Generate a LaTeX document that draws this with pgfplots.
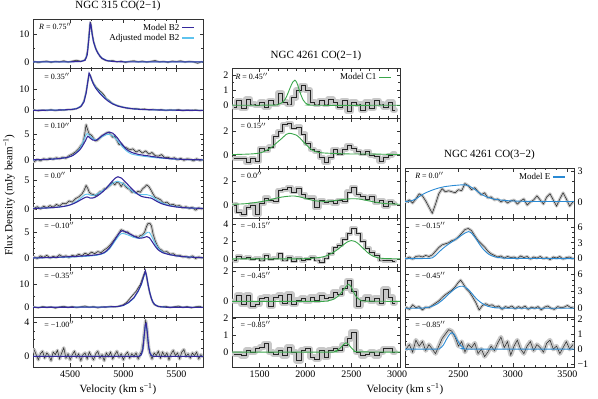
\documentclass[border=0pt]{standalone}
\usepackage{pgfplots}
\pgfplotsset{compat=1.18}
\usepackage{fontspec}
\setmainfont{Liberation Serif}
\definecolor{mBtwo}{HTML}{35299C}
\definecolor{mAdj}{HTML}{5EC3EE}
\definecolor{mCone}{HTML}{3AA64B}
\definecolor{mE}{HTML}{2A8AD4}
\definecolor{errg}{HTML}{C8C8C8}

\pgfplotsset{
  spec/.style={scale only axis, height=49.7pt, anchor=south west,
    axis line style={black!80, line width=0.6pt},
    tick style={black!80, line width=0.5pt},
    major tick length=3.5pt, minor tick length=2pt,
    tick align=inside, xticklabels={},
    tick label style={font=\fontsize{10}{11}\selectfont},
    /pgf/number format/assume math mode=true,
    title style={font=\fontsize{11}{12}\selectfont, inner sep=2pt},
    legend style={draw=none, fill=none, font=\fontsize{9}{10}\selectfont,
      at={(0.96,0.97)}, anchor=north east, row sep=-1.5pt, inner sep=1pt},
    legend cell align=right,
    legend plot pos=right,
    legend image code/.code={\draw[##1] (0pt,0pt) -- (12pt,0pt);},
  },
  lcol/.style={spec, width=170pt, xmin=4150, xmax=5750,
    xtick={4500,5000,5500}, minor x tick num=4},
  mcol/.style={spec, width=168pt, xmin=1200, xmax=3030,
    xtick={1500,2000,2500,3000}, minor x tick num=4},
  rcol/.style={spec, width=169pt, xmin=2010, xmax=3560,
    xtick={2500,3000,3500}, minor x tick num=4, yticklabel pos=right},
  obs/.style={black!85, line width=0.5pt, no marks},
  band/.style={errg, no marks, line join=round, line cap=round},
  dk/.style={mBtwo, line width=1.1pt, no marks},
  lt/.style={mAdj, line width=0.9pt, no marks},
  gr/.style={mCone, line width=0.9pt, no marks, smooth},
  be/.style={mE, line width=0.9pt, no marks, smooth},
}
\newcommand{\plab}[2]{\node[anchor=west, font=\fontsize{8}{9}\selectfont, inner sep=0pt] at (rel axis cs:#1,0.85) {#2};}

\begin{document}
\begin{tikzpicture}
\path[use as bounding box] (0pt,0pt) rectangle (598pt,399pt);

% ---------------- NGC 315 CO(2-1) ----------------
\begin{axis}[lcol, at={(33pt,330.2pt)}, ymin=-2.5, ymax=15.5, ytick={0,10}, minor y tick num=1,
  title={NGC 315 CO(2−1)}]
\addlegendimage{draw=mBtwo, line width=1.6pt}
\addlegendentry{Model B2}
\addlegendimage{draw=mAdj, line width=1.6pt}
\addlegendentry{Adjusted model B2}
\addplot[band, line width=2pt, forget plot] coordinates {(4160,0.2)(4200,-0.3)(4240,0.1)(4280,0.3)(4320,-0.2)(4360,0.2)(4400,0.0)(4440,0.4)(4480,-0.1)(4520,0.3)(4560,0.6)(4600,0.2)(4630,0.5)(4650,1.5)(4665,4.5)(4675,9.0)(4685,13.5)(4692,14.3)(4700,12.5)(4710,9.5)(4720,7.5)(4735,5.5)(4750,4.0)(4765,3.0)(4780,2.0)(4800,1.2)(4830,0.6)(4860,0.3)(4900,0.5)(4940,0.0)(4980,0.3)(5020,-0.2)(5060,0.2)(5100,0.4)(5140,0.0)(5180,0.3)(5220,-0.1)(5260,0.2)(5300,0.5)(5340,0.0)(5380,0.2)(5420,-0.2)(5460,0.3)(5500,0.1)(5540,0.4)(5580,-0.1)(5620,0.2)(5660,0.0)(5700,-0.5)(5740,0.1)};
\addplot[obs, forget plot] coordinates {(4160,0.2)(4200,-0.3)(4240,0.1)(4280,0.3)(4320,-0.2)(4360,0.2)(4400,0.0)(4440,0.4)(4480,-0.1)(4520,0.3)(4560,0.6)(4600,0.2)(4630,0.5)(4650,1.5)(4665,4.5)(4675,9.0)(4685,13.5)(4692,14.3)(4700,12.5)(4710,9.5)(4720,7.5)(4735,5.5)(4750,4.0)(4765,3.0)(4780,2.0)(4800,1.2)(4830,0.6)(4860,0.3)(4900,0.5)(4940,0.0)(4980,0.3)(5020,-0.2)(5060,0.2)(5100,0.4)(5140,0.0)(5180,0.3)(5220,-0.1)(5260,0.2)(5300,0.5)(5340,0.0)(5380,0.2)(5420,-0.2)(5460,0.3)(5500,0.1)(5540,0.4)(5580,-0.1)(5620,0.2)(5660,0.0)(5700,-0.5)(5740,0.1)};
\addplot[lt, forget plot] coordinates {(4150,0)(4500,0.02)(4600,0.15)(4640,0.7)(4660,2.8)(4675,8.5)(4688,13.6)(4695,13.2)(4705,10.3)(4720,7.3)(4740,4.9)(4760,3.3)(4780,2.2)(4800,1.4)(4840,0.55)(4900,0.18)(5000,0.04)(5750,0)};
\addplot[dk, forget plot] coordinates {(4150,0)(4500,0.02)(4600,0.15)(4640,0.6)(4660,2.5)(4675,8)(4688,14)(4695,13.5)(4705,10.5)(4720,7.2)(4740,4.8)(4760,3.2)(4780,2.1)(4800,1.3)(4840,0.5)(4900,0.15)(5000,0.03)(5750,0)};
\plab{0.035}{\textit{R} = 0.75$''$}
\end{axis}

\begin{axis}[lcol, at={(33pt,280.5pt)}, ymin=-3.7, ymax=19.2, ytick={0,10}, minor y tick num=1]
\addplot[band, line width=2pt] coordinates {(4160,0.3)(4200,-0.2)(4240,0.2)(4280,0.0)(4320,0.4)(4360,-0.1)(4400,0.3)(4440,0.1)(4480,0.5)(4520,0.4)(4560,0.9)(4590,1.5)(4610,2.5)(4630,4.5)(4650,8.5)(4665,13)(4678,16.8)(4690,16.0)(4705,14.0)(4720,12.5)(4740,11.0)(4760,10.0)(4780,9.0)(4800,8.2)(4820,7.0)(4840,5.5)(4860,4.8)(4880,4.0)(4900,3.2)(4930,2.5)(4960,2.0)(5000,1.5)(5040,1.0)(5080,0.8)(5120,0.9)(5160,0.5)(5200,0.7)(5240,0.3)(5280,0.5)(5320,0.2)(5360,0.4)(5400,0.0)(5440,0.3)(5480,0.1)(5520,0.4)(5560,-0.1)(5600,0.2)(5640,0.0)(5680,0.3)(5720,-0.1)(5740,0.1)};
\addplot[obs] coordinates {(4160,0.3)(4200,-0.2)(4240,0.2)(4280,0.0)(4320,0.4)(4360,-0.1)(4400,0.3)(4440,0.1)(4480,0.5)(4520,0.4)(4560,0.9)(4590,1.5)(4610,2.5)(4630,4.5)(4650,8.5)(4665,13)(4678,16.8)(4690,16.0)(4705,14.0)(4720,12.5)(4740,11.0)(4760,10.0)(4780,9.0)(4800,8.2)(4820,7.0)(4840,5.5)(4860,4.8)(4880,4.0)(4900,3.2)(4930,2.5)(4960,2.0)(5000,1.5)(5040,1.0)(5080,0.8)(5120,0.9)(5160,0.5)(5200,0.7)(5240,0.3)(5280,0.5)(5320,0.2)(5360,0.4)(5400,0.0)(5440,0.3)(5480,0.1)(5520,0.4)(5560,-0.1)(5600,0.2)(5640,0.0)(5680,0.3)(5720,-0.1)(5740,0.1)};
\addplot[lt] coordinates {(4150,0.05)(4400,0.2)(4500,0.4)(4560,0.9)(4600,2.0)(4630,4.3)(4650,8.3)(4665,13.2)(4678,16.8)(4690,15.8)(4705,13.9)(4720,12.3)(4740,10.7)(4760,9.5)(4780,8.3)(4800,7.2)(4830,5.8)(4860,4.5)(4900,3.2)(4950,2.1)(5000,1.5)(5100,0.7)(5200,0.4)(5400,0.15)(5750,0.05)};
\addplot[dk] coordinates {(4150,0.05)(4400,0.2)(4500,0.4)(4560,0.8)(4600,1.8)(4630,4.0)(4650,8.0)(4665,13)(4678,17.2)(4690,16.0)(4705,13.8)(4720,12.0)(4740,10.3)(4760,9.0)(4780,7.8)(4800,6.8)(4830,5.4)(4860,4.2)(4900,3.0)(4950,2.0)(5000,1.4)(5100,0.7)(5200,0.4)(5400,0.15)(5750,0.05)};
\plab{0.065}{= 0.35$''$}
\end{axis}

\begin{axis}[lcol, at={(33pt,230.8pt)}, ymin=-1.5, ymax=8, ytick={0,5}, minor y tick num=4]
\addplot[band, line width=3pt] coordinates {(4160,-0.3)(4190,0.2)(4220,-0.1)(4250,0.3)(4280,0.1)(4310,0.4)(4340,0.2)(4370,0.5)(4400,0.3)(4430,0.6)(4460,0.4)(4490,0.9)(4520,1.2)(4550,1.6)(4580,2.2)(4600,2.8)(4620,3.3)(4635,4.8)(4650,6.8)(4665,5.8)(4680,5.0)(4700,4.8)(4720,4.2)(4740,3.7)(4760,3.9)(4780,4.3)(4800,4.7)(4820,4.9)(4840,5.2)(4860,5.4)(4880,5.0)(4900,4.4)(4920,4.6)(4940,3.8)(4960,3.0)(4980,3.2)(5000,2.6)(5030,2.4)(5060,2.0)(5090,2.2)(5120,1.6)(5150,1.9)(5180,1.4)(5210,1.8)(5240,1.2)(5270,1.5)(5300,0.9)(5330,0.8)(5360,1.1)(5390,0.5)(5420,0.6)(5450,0.3)(5480,0.5)(5510,0.1)(5540,0.4)(5570,0.0)(5600,0.3)(5630,0.2)(5660,-0.1)(5690,0.3)(5720,0.0)(5740,0.1)};
\addplot[obs] coordinates {(4160,-0.3)(4190,0.2)(4220,-0.1)(4250,0.3)(4280,0.1)(4310,0.4)(4340,0.2)(4370,0.5)(4400,0.3)(4430,0.6)(4460,0.4)(4490,0.9)(4520,1.2)(4550,1.6)(4580,2.2)(4600,2.8)(4620,3.3)(4635,4.8)(4650,6.8)(4665,5.8)(4680,5.0)(4700,4.8)(4720,4.2)(4740,3.7)(4760,3.9)(4780,4.3)(4800,4.7)(4820,4.9)(4840,5.2)(4860,5.4)(4880,5.0)(4900,4.4)(4920,4.6)(4940,3.8)(4960,3.0)(4980,3.2)(5000,2.6)(5030,2.4)(5060,2.0)(5090,2.2)(5120,1.6)(5150,1.9)(5180,1.4)(5210,1.8)(5240,1.2)(5270,1.5)(5300,0.9)(5330,0.8)(5360,1.1)(5390,0.5)(5420,0.6)(5450,0.3)(5480,0.5)(5510,0.1)(5540,0.4)(5570,0.0)(5600,0.3)(5630,0.2)(5660,-0.1)(5690,0.3)(5720,0.0)(5740,0.1)};
\addplot[lt, smooth] coordinates {(4150,0.1)(4300,0.2)(4400,0.35)(4480,0.6)(4530,1.0)(4590,2.2)(4620,3.5)(4645,4.7)(4660,5.1)(4680,4.8)(4710,4.2)(4740,3.9)(4770,4.1)(4800,4.5)(4840,4.9)(4870,5.0)(4900,4.7)(4940,3.9)(4980,2.9)(5030,1.8)(5080,1.2)(5150,0.9)(5220,0.7)(5300,0.5)(5400,0.35)(5500,0.2)(5600,0.15)(5750,0.1)};
\addplot[dk, smooth] coordinates {(4150,0.1)(4300,0.2)(4400,0.35)(4480,0.6)(4530,1.0)(4590,2.0)(4620,2.9)(4645,3.8)(4665,4.6)(4685,4.3)(4710,3.9)(4740,3.8)(4770,4.2)(4800,4.7)(4840,5.2)(4870,5.4)(4900,5.2)(4940,4.4)(4980,3.3)(5030,2.1)(5080,1.5)(5150,1.1)(5220,0.9)(5300,0.65)(5400,0.4)(5500,0.25)(5600,0.15)(5750,0.1)};
\plab{0.065}{= 0.10$''$}
\end{axis}

\begin{axis}[lcol, at={(33pt,181.1pt)}, ymin=-1.55, ymax=7.1, ytick={0,5}, minor y tick num=4]
\addplot[band, line width=3pt] coordinates {(4160,0.1)(4190,0.4)(4220,0.0)(4250,0.5)(4280,0.2)(4310,0.6)(4340,0.3)(4370,0.8)(4400,0.5)(4430,1.0)(4460,0.9)(4490,1.4)(4520,1.2)(4550,1.8)(4580,2.1)(4610,2.6)(4630,3.2)(4650,4.1)(4665,3.6)(4680,2.9)(4700,2.6)(4720,2.5)(4740,2.3)(4760,2.6)(4780,3.0)(4800,3.1)(4820,3.5)(4840,3.6)(4860,3.9)(4880,4.2)(4900,4.6)(4920,4.2)(4940,4.7)(4960,4.5)(4980,3.9)(5000,4.5)(5020,3.9)(5040,3.6)(5060,3.4)(5080,2.9)(5100,3.0)(5120,2.8)(5140,3.1)(5160,2.9)(5180,3.5)(5200,3.8)(5220,4.2)(5240,3.9)(5260,3.3)(5280,2.6)(5300,2.0)(5320,1.9)(5350,1.6)(5380,1.0)(5410,1.2)(5440,0.7)(5470,0.8)(5500,0.5)(5530,0.6)(5560,0.2)(5590,0.4)(5620,0.1)(5650,0.3)(5680,-0.2)(5710,0.2)(5740,0.0)};
\addplot[obs] coordinates {(4160,0.1)(4190,0.4)(4220,0.0)(4250,0.5)(4280,0.2)(4310,0.6)(4340,0.3)(4370,0.8)(4400,0.5)(4430,1.0)(4460,0.9)(4490,1.4)(4520,1.2)(4550,1.8)(4580,2.1)(4610,2.6)(4630,3.2)(4650,4.1)(4665,3.6)(4680,2.9)(4700,2.6)(4720,2.5)(4740,2.3)(4760,2.6)(4780,3.0)(4800,3.1)(4820,3.5)(4840,3.6)(4860,3.9)(4880,4.2)(4900,4.6)(4920,4.2)(4940,4.7)(4960,4.5)(4980,3.9)(5000,4.5)(5020,3.9)(5040,3.6)(5060,3.4)(5080,2.9)(5100,3.0)(5120,2.8)(5140,3.1)(5160,2.9)(5180,3.5)(5200,3.8)(5220,4.2)(5240,3.9)(5260,3.3)(5280,2.6)(5300,2.0)(5320,1.9)(5350,1.6)(5380,1.0)(5410,1.2)(5440,0.7)(5470,0.8)(5500,0.5)(5530,0.6)(5560,0.2)(5590,0.4)(5620,0.1)(5650,0.3)(5680,-0.2)(5710,0.2)(5740,0.0)};
\addplot[lt, smooth] coordinates {(4150,0.1)(4300,0.2)(4400,0.35)(4480,0.6)(4540,1.1)(4600,1.9)(4640,2.5)(4660,2.6)(4690,2.4)(4730,2.4)(4780,2.9)(4830,3.5)(4880,4.2)(4920,4.7)(4950,4.8)(4980,4.6)(5020,4.1)(5070,3.3)(5120,2.7)(5170,2.5)(5220,2.5)(5260,2.3)(5300,1.8)(5350,1.2)(5420,0.7)(5500,0.4)(5600,0.2)(5750,0.1)};
\addplot[dk, smooth] coordinates {(4150,0.1)(4300,0.2)(4400,0.35)(4480,0.6)(4540,1.0)(4600,1.6)(4640,2.0)(4660,2.1)(4690,1.9)(4730,2.0)(4780,2.6)(4830,3.4)(4880,4.5)(4920,5.3)(4950,5.6)(4980,5.4)(5020,4.7)(5070,3.7)(5120,2.8)(5170,2.2)(5220,2.0)(5260,1.9)(5300,1.5)(5350,1.0)(5420,0.6)(5500,0.35)(5600,0.2)(5750,0.1)};
\plab{0.065}{= 0.0$''$}
\end{axis}

\begin{axis}[lcol, at={(33pt,131.4pt)}, ymin=-1.7, ymax=7.6, ytick={0,5}, minor y tick num=4]
\addplot[band, line width=3pt] coordinates {(4160,0.3)(4190,0.0)(4220,0.5)(4250,0.2)(4280,0.6)(4310,0.1)(4340,0.4)(4370,0.2)(4400,0.7)(4430,0.3)(4460,0.5)(4490,0.2)(4520,0.6)(4550,0.4)(4580,0.8)(4610,0.5)(4640,1.0)(4670,0.7)(4700,1.2)(4730,0.9)(4760,1.3)(4790,1.1)(4820,1.6)(4850,2.0)(4880,2.6)(4910,3.4)(4940,4.2)(4960,4.8)(4980,5.4)(5000,5.2)(5020,4.9)(5040,5.0)(5060,4.6)(5080,4.4)(5100,4.1)(5120,4.2)(5140,3.9)(5160,4.3)(5180,4.4)(5200,4.9)(5215,5.8)(5230,6.5)(5250,6.6)(5265,6.1)(5280,4.6)(5300,3.3)(5320,2.4)(5340,1.8)(5360,1.6)(5380,1.2)(5410,1.3)(5440,0.8)(5470,0.9)(5500,0.5)(5530,0.6)(5560,0.3)(5590,0.4)(5620,0.1)(5650,0.5)(5680,0.0)(5710,0.3)(5740,0.1)};
\addplot[obs] coordinates {(4160,0.3)(4190,0.0)(4220,0.5)(4250,0.2)(4280,0.6)(4310,0.1)(4340,0.4)(4370,0.2)(4400,0.7)(4430,0.3)(4460,0.5)(4490,0.2)(4520,0.6)(4550,0.4)(4580,0.8)(4610,0.5)(4640,1.0)(4670,0.7)(4700,1.2)(4730,0.9)(4760,1.3)(4790,1.1)(4820,1.6)(4850,2.0)(4880,2.6)(4910,3.4)(4940,4.2)(4960,4.8)(4980,5.4)(5000,5.2)(5020,4.9)(5040,5.0)(5060,4.6)(5080,4.4)(5100,4.1)(5120,4.2)(5140,3.9)(5160,4.3)(5180,4.4)(5200,4.9)(5215,5.8)(5230,6.5)(5250,6.6)(5265,6.1)(5280,4.6)(5300,3.3)(5320,2.4)(5340,1.8)(5360,1.6)(5380,1.2)(5410,1.3)(5440,0.8)(5470,0.9)(5500,0.5)(5530,0.6)(5560,0.3)(5590,0.4)(5620,0.1)(5650,0.5)(5680,0.0)(5710,0.3)(5740,0.1)};
\addplot[lt, smooth] coordinates {(4150,0.1)(4400,0.2)(4600,0.35)(4750,0.6)(4820,1.0)(4870,1.8)(4920,3.2)(4960,4.3)(4990,4.7)(5030,4.5)(5070,4.2)(5110,3.9)(5150,3.8)(5190,4.3)(5220,4.8)(5245,4.9)(5270,4.0)(5300,2.8)(5330,1.9)(5370,1.2)(5420,0.8)(5500,0.5)(5600,0.3)(5750,0.15)};
\addplot[dk, smooth] coordinates {(4150,0.1)(4400,0.25)(4600,0.45)(4750,0.7)(4820,1.1)(4870,2.0)(4920,3.5)(4960,4.7)(4990,5.2)(5030,4.9)(5070,4.5)(5110,4.1)(5150,3.8)(5190,3.9)(5220,4.1)(5245,3.9)(5270,3.2)(5300,2.3)(5330,1.6)(5370,1.1)(5420,0.8)(5500,0.5)(5600,0.3)(5750,0.15)};
\plab{0.065}{= −0.10$''$}
\end{axis}

\begin{axis}[lcol, at={(33pt,81.7pt)}, ymin=-4.3, ymax=17.4, ytick={0,10}, minor y tick num=1]
\addplot[band, line width=2pt] coordinates {(4160,0.3)(4200,-0.2)(4240,0.4)(4280,0.0)(4320,0.3)(4360,-0.3)(4400,0.2)(4440,0.5)(4480,0.0)(4520,0.4)(4560,-0.1)(4600,0.3)(4640,0.6)(4680,0.1)(4720,0.4)(4760,-0.2)(4800,0.3)(4840,0.1)(4880,0.5)(4920,0.2)(4960,0.6)(5000,1.2)(5030,2.2)(5060,3.8)(5090,5.5)(5120,7.0)(5140,8.6)(5160,10.0)(5175,12.0)(5190,14.0)(5205,15.8)(5215,14.5)(5230,10.5)(5245,7.0)(5260,4.5)(5275,2.5)(5290,1.3)(5320,0.6)(5360,0.2)(5400,0.5)(5440,-0.1)(5480,0.3)(5520,0.6)(5560,0.0)(5600,0.4)(5640,-0.2)(5680,0.3)(5720,0.5)(5740,0.1)};
\addplot[obs] coordinates {(4160,0.3)(4200,-0.2)(4240,0.4)(4280,0.0)(4320,0.3)(4360,-0.3)(4400,0.2)(4440,0.5)(4480,0.0)(4520,0.4)(4560,-0.1)(4600,0.3)(4640,0.6)(4680,0.1)(4720,0.4)(4760,-0.2)(4800,0.3)(4840,0.1)(4880,0.5)(4920,0.2)(4960,0.6)(5000,1.2)(5030,2.2)(5060,3.8)(5090,5.5)(5120,7.0)(5140,8.6)(5160,10.0)(5175,12.0)(5190,14.0)(5205,15.8)(5215,14.5)(5230,10.5)(5245,7.0)(5260,4.5)(5275,2.5)(5290,1.3)(5320,0.6)(5360,0.2)(5400,0.5)(5440,-0.1)(5480,0.3)(5520,0.6)(5560,0.0)(5600,0.4)(5640,-0.2)(5680,0.3)(5720,0.5)(5740,0.1)};
\addplot[lt] coordinates {(4150,0.05)(4800,0.15)(4950,0.4)(5000,0.8)(5050,2.0)(5100,4.0)(5140,6.9)(5170,9.9)(5195,13.7)(5208,15.5)(5220,13.4)(5235,9.6)(5250,6.4)(5265,3.9)(5280,2.3)(5300,1.2)(5330,0.45)(5400,0.1)(5750,0.05)};
\addplot[dk] coordinates {(4150,0.05)(4800,0.15)(4950,0.4)(5000,0.9)(5050,2.2)(5100,4.3)(5140,7.2)(5170,10.2)(5195,14.0)(5208,16.0)(5220,13.5)(5235,9.5)(5250,6.3)(5265,3.8)(5280,2.2)(5300,1.1)(5330,0.4)(5400,0.1)(5750,0.05)};
\plab{0.065}{= −0.35$''$}
\end{axis}

\begin{axis}[lcol, at={(33pt,32pt)}, ymin=-1.25, ymax=4.6, ytick={0,4}, minor y tick num=3,
  xticklabels={4500,5000,5500}]
\addplot[band, line width=3.5pt] coordinates {(4160,0.8)(4180,0.2)(4200,-0.4)(4220,0.3)(4240,0.6)(4260,-0.2)(4280,0.4)(4300,0.1)(4320,-0.5)(4340,0.5)(4360,0.2)(4380,0.7)(4400,-0.3)(4420,0.4)(4440,1.0)(4460,-0.2)(4480,0.3)(4500,-0.4)(4520,0.2)(4540,0.6)(4560,-0.1)(4580,0.3)(4600,-0.5)(4620,0.2)(4640,0.4)(4660,-0.3)(4680,0.5)(4700,0.0)(4720,-0.4)(4740,0.3)(4760,0.6)(4780,-0.2)(4800,0.2)(4820,-0.5)(4840,0.4)(4860,0.0)(4880,0.5)(4900,-0.3)(4920,0.2)(4940,0.6)(4960,-0.1)(4980,0.3)(5000,-0.4)(5020,0.2)(5040,0.5)(5060,-0.2)(5080,0.3)(5100,0.0)(5120,0.4)(5140,-0.3)(5160,0.3)(5175,0.6)(5190,1.8)(5200,3.0)(5210,4.2)(5220,3.4)(5230,2.0)(5240,0.9)(5255,0.2)(5270,-0.3)(5290,0.4)(5310,0.1)(5330,0.6)(5350,-0.2)(5370,0.5)(5390,0.0)(5410,0.4)(5430,-0.4)(5450,0.3)(5470,0.7)(5490,0.1)(5510,0.4)(5530,-0.3)(5550,0.5)(5570,0.8)(5590,0.0)(5610,0.3)(5630,-0.2)(5650,0.4)(5670,0.1)(5690,0.5)(5710,-0.3)(5730,0.2)(5740,0.0)};
\addplot[obs] coordinates {(4160,0.8)(4180,0.2)(4200,-0.4)(4220,0.3)(4240,0.6)(4260,-0.2)(4280,0.4)(4300,0.1)(4320,-0.5)(4340,0.5)(4360,0.2)(4380,0.7)(4400,-0.3)(4420,0.4)(4440,1.0)(4460,-0.2)(4480,0.3)(4500,-0.4)(4520,0.2)(4540,0.6)(4560,-0.1)(4580,0.3)(4600,-0.5)(4620,0.2)(4640,0.4)(4660,-0.3)(4680,0.5)(4700,0.0)(4720,-0.4)(4740,0.3)(4760,0.6)(4780,-0.2)(4800,0.2)(4820,-0.5)(4840,0.4)(4860,0.0)(4880,0.5)(4900,-0.3)(4920,0.2)(4940,0.6)(4960,-0.1)(4980,0.3)(5000,-0.4)(5020,0.2)(5040,0.5)(5060,-0.2)(5080,0.3)(5100,0.0)(5120,0.4)(5140,-0.3)(5160,0.3)(5175,0.6)(5190,1.8)(5200,3.0)(5210,4.2)(5220,3.4)(5230,2.0)(5240,0.9)(5255,0.2)(5270,-0.3)(5290,0.4)(5310,0.1)(5330,0.6)(5350,-0.2)(5370,0.5)(5390,0.0)(5410,0.4)(5430,-0.4)(5450,0.3)(5470,0.7)(5490,0.1)(5510,0.4)(5530,-0.3)(5550,0.5)(5570,0.8)(5590,0.0)(5610,0.3)(5630,-0.2)(5650,0.4)(5670,0.1)(5690,0.5)(5710,-0.3)(5730,0.2)(5740,0.0)};
\addplot[lt] coordinates {(4150,0)(5150,0.0)(5170,0.2)(5185,0.95)(5197,2.6)(5208,3.7)(5215,3.8)(5225,2.9)(5237,1.35)(5250,0.45)(5265,0.1)(5280,0)(5750,0)};
\addplot[dk] coordinates {(4150,0)(5150,0.0)(5170,0.2)(5185,0.9)(5197,2.5)(5208,3.8)(5215,3.9)(5225,2.9)(5237,1.3)(5250,0.4)(5265,0.1)(5280,0)(5750,0)};
\plab{0.065}{= −1.00$''$}
\end{axis}

% ---------------- NGC 4261 CO(2-1) ----------------
\begin{axis}[mcol, at={(232pt,280.5pt)}, ymin=-0.87, ymax=2.4, ytick={0,1,2}, minor y tick num=1,
  title={NGC 4261 CO(2−1)}]
\addplot[band, line width=6pt, const plot mark mid, forget plot] coordinates {(1225,-0.1)(1275,0.3)(1325,-0.2)(1375,0.4)(1425,0.1)(1475,0.0)(1525,0.2)(1575,-0.1)(1625,0.3)(1675,0.1)(1725,0.8)(1775,0.2)(1825,0.1)(1875,0.5)(1925,1.0)(1975,1.3)(2025,1.0)(2075,0.2)(2125,0.1)(2175,0.3)(2225,0.1)(2275,0.4)(2325,0.2)(2375,-0.1)(2425,0.3)(2475,-0.4)(2525,0.2)(2575,0.1)(2625,-0.3)(2675,0.2)(2725,-0.2)(2775,0.3)(2825,0.1)(2875,-0.1)(2925,0.2)(2975,-0.3)};
\addplot[obs, const plot mark mid, forget plot] coordinates {(1225,-0.1)(1275,0.3)(1325,-0.2)(1375,0.4)(1425,0.1)(1475,0.0)(1525,0.2)(1575,-0.1)(1625,0.3)(1675,0.1)(1725,0.8)(1775,0.2)(1825,0.1)(1875,0.5)(1925,1.0)(1975,1.3)(2025,1.0)(2075,0.2)(2125,0.1)(2175,0.3)(2225,0.1)(2275,0.4)(2325,0.2)(2375,-0.1)(2425,0.3)(2475,-0.4)(2525,0.2)(2575,0.1)(2625,-0.3)(2675,0.2)(2725,-0.2)(2775,0.3)(2825,0.1)(2875,-0.1)(2925,0.2)(2975,-0.3)};
\addplot[gr, forget plot] coordinates {(1200,0)(1650,0.01)(1700,0.05)(1740,0.15)(1780,0.4)(1810,0.8)(1840,1.25)(1865,1.55)(1885,1.65)(1905,1.5)(1925,1.15)(1950,0.7)(1975,0.35)(2000,0.15)(2040,0.04)(2100,0.0)(3030,0.0)};
\addlegendimage{draw=mCone, line width=1.6pt}
\addlegendentry{Model C1}
\plab{0.02}{\textit{R} = 0.45$''$}
\end{axis}

\begin{axis}[mcol, at={(232pt,230.8pt)}, ymin=-1.1, ymax=3.1, ytick={0,2}, minor y tick num=1]
\addplot[band, line width=5pt, const plot mark mid] coordinates {(1225,-0.3)(1275,-0.3)(1325,-0.3)(1375,-0.6)(1425,-0.3)(1475,-0.5)(1525,0.6)(1575,0.4)(1625,0.7)(1675,1.6)(1725,2.0)(1775,2.6)(1825,2.7)(1875,2.3)(1925,2.4)(1975,1.8)(2025,1.0)(2075,0.5)(2125,0.3)(2175,-0.2)(2225,-0.6)(2275,-0.2)(2325,0.5)(2375,0.1)(2425,0.5)(2475,0.8)(2525,0.6)(2575,0.3)(2625,0.1)(2675,0.3)(2725,0.0)(2775,-0.1)(2825,-0.5)(2875,-0.2)(2925,0.0)(2975,0.1)};
\addplot[obs, const plot mark mid] coordinates {(1225,-0.3)(1275,-0.3)(1325,-0.3)(1375,-0.6)(1425,-0.3)(1475,-0.5)(1525,0.6)(1575,0.4)(1625,0.7)(1675,1.6)(1725,2.0)(1775,2.6)(1825,2.7)(1875,2.3)(1925,2.4)(1975,1.8)(2025,1.0)(2075,0.5)(2125,0.3)(2175,-0.2)(2225,-0.6)(2275,-0.2)(2325,0.5)(2375,0.1)(2425,0.5)(2475,0.8)(2525,0.6)(2575,0.3)(2625,0.1)(2675,0.3)(2725,0.0)(2775,-0.1)(2825,-0.5)(2875,-0.2)(2925,0.0)(2975,0.1)};
\addplot[gr] coordinates {(1200,0.05)(1400,0.1)(1500,0.18)(1560,0.35)(1620,0.6)(1680,1.0)(1740,1.4)(1790,1.75)(1820,1.85)(1860,1.8)(1900,1.7)(1940,1.45)(1980,1.1)(2020,0.8)(2060,0.5)(2110,0.3)(2180,0.2)(2300,0.15)(2500,0.1)(2700,0.1)(3030,0.05)};
\plab{0.05}{= 0.15$''$}
\end{axis}

\begin{axis}[mcol, at={(232pt,181.1pt)}, ymin=-1.1, ymax=3.1, ytick={0,2}, minor y tick num=1]
\addplot[band, line width=5pt, const plot mark mid] coordinates {(1225,0.0)(1275,-0.6)(1325,-0.8)(1375,-0.2)(1425,0.0)(1475,-0.8)(1525,0.1)(1575,0.6)(1625,0.4)(1675,0.3)(1725,1.2)(1775,1.3)(1825,1.5)(1875,1.1)(1925,1.4)(1975,0.9)(2025,0.6)(2075,0.6)(2125,-0.2)(2175,0.4)(2225,0.2)(2275,0.3)(2325,0.1)(2375,0.4)(2425,0.3)(2475,1.1)(2525,1.5)(2575,0.9)(2625,0.7)(2675,0.5)(2725,0.7)(2775,0.2)(2825,0.4)(2875,-0.1)(2925,0.3)(2975,0.1)};
\addplot[obs, const plot mark mid] coordinates {(1225,0.0)(1275,-0.6)(1325,-0.8)(1375,-0.2)(1425,0.0)(1475,-0.8)(1525,0.1)(1575,0.6)(1625,0.4)(1675,0.3)(1725,1.2)(1775,1.3)(1825,1.5)(1875,1.1)(1925,1.4)(1975,0.9)(2025,0.6)(2075,0.6)(2125,-0.2)(2175,0.4)(2225,0.2)(2275,0.3)(2325,0.1)(2375,0.4)(2425,0.3)(2475,1.1)(2525,1.5)(2575,0.9)(2625,0.7)(2675,0.5)(2725,0.7)(2775,0.2)(2825,0.4)(2875,-0.1)(2925,0.3)(2975,0.1)};
\addplot[gr] coordinates {(1200,0.05)(1350,0.1)(1500,0.25)(1600,0.4)(1700,0.6)(1800,0.72)(1880,0.75)(1950,0.65)(2020,0.5)(2100,0.35)(2200,0.3)(2300,0.35)(2400,0.45)(2500,0.52)(2580,0.5)(2650,0.4)(2750,0.25)(2850,0.12)(3030,0.05)};
\plab{0.05}{= 0.0$''$}
\end{axis}

\begin{axis}[mcol, at={(232pt,131.4pt)}, ymin=-1.0, ymax=4.7, ytick={0,2,4}, minor y tick num=1]
\addplot[band, line width=4pt, const plot mark mid] coordinates {(1225,-0.2)(1275,0.3)(1325,0.1)(1375,0.2)(1425,0.0)(1475,0.1)(1525,-0.1)(1575,0.4)(1625,0.0)(1675,0.1)(1725,0.6)(1775,-0.1)(1825,0.2)(1875,-0.3)(1925,0.1)(1975,-0.2)(2025,0.0)(2075,0.2)(2125,-0.1)(2175,-0.4)(2225,0.1)(2275,0.6)(2325,1.3)(2375,1.6)(2425,2.3)(2475,2.9)(2525,3.5)(2575,2.9)(2625,2.0)(2675,1.2)(2725,0.8)(2775,0.4)(2825,-0.1)(2875,-0.2)(2925,-0.2)(2975,-0.3)};
\addplot[obs, const plot mark mid] coordinates {(1225,-0.2)(1275,0.3)(1325,0.1)(1375,0.2)(1425,0.0)(1475,0.1)(1525,-0.1)(1575,0.4)(1625,0.0)(1675,0.1)(1725,0.6)(1775,-0.1)(1825,0.2)(1875,-0.3)(1925,0.1)(1975,-0.2)(2025,0.0)(2075,0.2)(2125,-0.1)(2175,-0.4)(2225,0.1)(2275,0.6)(2325,1.3)(2375,1.6)(2425,2.3)(2475,2.9)(2525,3.5)(2575,2.9)(2625,2.0)(2675,1.2)(2725,0.8)(2775,0.4)(2825,-0.1)(2875,-0.2)(2925,-0.2)(2975,-0.3)};
\addplot[gr] coordinates {(1200,0.0)(1900,0.0)(2000,0.03)(2100,0.1)(2200,0.25)(2280,0.6)(2340,1.0)(2400,1.5)(2450,1.9)(2500,2.1)(2540,2.0)(2580,1.7)(2630,1.2)(2680,0.7)(2730,0.35)(2780,0.15)(2850,0.05)(3030,0.0)};
\plab{0.05}{= −0.15$''$}
\end{axis}

\begin{axis}[mcol, at={(232pt,81.7pt)}, ymin=-1.07, ymax=2.27, ytick={0,2}, minor y tick num=1]
\addplot[band, line width=6pt, const plot mark mid] coordinates {(1225,0.0)(1275,0.4)(1325,-0.2)(1375,0.4)(1425,-0.3)(1475,-0.2)(1525,0.2)(1575,0.3)(1625,-0.3)(1675,0.3)(1725,0.4)(1775,-0.1)(1825,0.5)(1875,-0.2)(1925,0.1)(1975,0.2)(2025,0.0)(2075,0.3)(2125,0.1)(2175,0.4)(2225,0.2)(2275,0.3)(2325,0.6)(2375,0.5)(2425,0.9)(2475,1.4)(2525,0.7)(2575,-0.3)(2625,0.1)(2675,0.3)(2725,0.0)(2775,0.2)(2825,-0.1)(2875,0.8)(2925,0.3)(2975,-0.1)};
\addplot[obs, const plot mark mid] coordinates {(1225,0.0)(1275,0.4)(1325,-0.2)(1375,0.4)(1425,-0.3)(1475,-0.2)(1525,0.2)(1575,0.3)(1625,-0.3)(1675,0.3)(1725,0.4)(1775,-0.1)(1825,0.5)(1875,-0.2)(1925,0.1)(1975,0.2)(2025,0.0)(2075,0.3)(2125,0.1)(2175,0.4)(2225,0.2)(2275,0.3)(2325,0.6)(2375,0.5)(2425,0.9)(2475,1.4)(2525,0.7)(2575,-0.3)(2625,0.1)(2675,0.3)(2725,0.0)(2775,0.2)(2825,-0.1)(2875,0.8)(2925,0.3)(2975,-0.1)};
\addplot[gr] coordinates {(1200,0)(2150,0.0)(2250,0.05)(2300,0.13)(2350,0.32)(2400,0.65)(2440,0.98)(2470,1.15)(2500,0.95)(2530,0.55)(2560,0.27)(2600,0.08)(2650,0.02)(3030,0)};
\plab{0.05}{= −0.45$''$}
\end{axis}

\begin{axis}[mcol, at={(232pt,32pt)}, ymin=-0.88, ymax=2.06, ytick={0,1,2}, minor y tick num=1,
  xticklabels={1500,2000,2500,3000}]
\addplot[band, line width=6pt, const plot mark mid] coordinates {(1225,-0.1)(1275,-0.1)(1325,-0.2)(1375,0.1)(1425,0.0)(1475,0.2)(1525,0.3)(1575,0.5)(1625,0.0)(1675,-0.1)(1725,0.1)(1775,-0.2)(1825,0.3)(1875,0.0)(1925,-0.5)(1975,0.1)(2025,0.2)(2075,-0.3)(2125,-0.4)(2175,0.1)(2225,-0.3)(2275,0.1)(2325,0.2)(2375,0.1)(2425,0.4)(2475,0.8)(2525,1.2)(2575,0.0)(2625,-0.2)(2675,-0.1)(2725,0.0)(2775,-0.2)(2825,0.0)(2875,0.2)(2925,0.2)(2975,0.0)};
\addplot[obs, const plot mark mid] coordinates {(1225,-0.1)(1275,-0.1)(1325,-0.2)(1375,0.1)(1425,0.0)(1475,0.2)(1525,0.3)(1575,0.5)(1625,0.0)(1675,-0.1)(1725,0.1)(1775,-0.2)(1825,0.3)(1875,0.0)(1925,-0.5)(1975,0.1)(2025,0.2)(2075,-0.3)(2125,-0.4)(2175,0.1)(2225,-0.3)(2275,0.1)(2325,0.2)(2375,0.1)(2425,0.4)(2475,0.8)(2525,1.2)(2575,0.0)(2625,-0.2)(2675,-0.1)(2725,0.0)(2775,-0.2)(2825,0.0)(2875,0.2)(2925,0.2)(2975,0.0)};
\addplot[gr] coordinates {(1200,0)(2250,0)(2320,0.05)(2370,0.2)(2410,0.42)(2440,0.55)(2470,0.45)(2500,0.25)(2530,0.1)(2570,0.02)(3030,0)};
\plab{0.05}{= −0.85$''$}
\end{axis}

% ---------------- NGC 4261 CO(3-2) ----------------
\begin{axis}[rcol, at={(405pt,181.1pt)}, ymin=-1.55, ymax=3.3, ytick={0,3}, minor y tick num=2,
  title={NGC 4261 CO(3−2)}]
\addplot[band, line width=3pt, forget plot] coordinates {(2020,0.0)(2050,0.2)(2080,-0.1)(2110,0.3)(2140,0.8)(2170,0.6)(2200,0.1)(2230,-0.5)(2260,-1.1)(2290,-0.2)(2320,0.8)(2350,1.3)(2380,1.0)(2410,1.1)(2440,1.0)(2470,0.9)(2500,1.2)(2530,1.1)(2560,1.8)(2590,1.6)(2620,1.2)(2650,1.4)(2680,1.0)(2710,0.7)(2740,0.9)(2770,0.4)(2800,0.5)(2830,0.2)(2860,0.3)(2890,0.0)(2920,0.2)(2950,-0.1)(2980,0.1)(3010,0.2)(3040,-0.2)(3070,0.1)(3100,0.3)(3130,-0.3)(3160,0.0)(3190,0.2)(3220,0.6)(3250,0.2)(3280,-0.2)(3310,0.5)(3340,0.8)(3370,0.2)(3400,-0.4)(3430,0.3)(3460,0.9)(3490,0.3)(3520,-0.4)(3550,0.0)};
\addplot[obs, forget plot] coordinates {(2020,0.0)(2050,0.2)(2080,-0.1)(2110,0.3)(2140,0.8)(2170,0.6)(2200,0.1)(2230,-0.5)(2260,-1.1)(2290,-0.2)(2320,0.8)(2350,1.3)(2380,1.0)(2410,1.1)(2440,1.0)(2470,0.9)(2500,1.2)(2530,1.1)(2560,1.8)(2590,1.6)(2620,1.2)(2650,1.4)(2680,1.0)(2710,0.7)(2740,0.9)(2770,0.4)(2800,0.5)(2830,0.2)(2860,0.3)(2890,0.0)(2920,0.2)(2950,-0.1)(2980,0.1)(3010,0.2)(3040,-0.2)(3070,0.1)(3100,0.3)(3130,-0.3)(3160,0.0)(3190,0.2)(3220,0.6)(3250,0.2)(3280,-0.2)(3310,0.5)(3340,0.8)(3370,0.2)(3400,-0.4)(3430,0.3)(3460,0.9)(3490,0.3)(3520,-0.4)(3550,0.0)};
\addplot[be, forget plot] coordinates {(2010,0.05)(2060,0.1)(2110,0.3)(2150,0.6)(2200,0.9)(2270,1.2)(2350,1.45)(2430,1.58)(2500,1.65)(2560,1.68)(2600,1.55)(2640,1.3)(2680,1.0)(2720,0.7)(2760,0.5)(2820,0.3)(2900,0.18)(3000,0.1)(3200,0.05)(3560,0.05)};
\addlegendimage{draw=mE, line width=1.6pt}
\addlegendentry{Model E}
\plab{0.06}{\textit{R} = 0.0$''$}
\end{axis}

\begin{axis}[rcol, at={(405pt,131.4pt)}, ymin=-1.7, ymax=7.7, ytick={0,3,6}, minor y tick num=2]
\addplot[band, line width=3pt] coordinates {(2020,0.0)(2050,0.3)(2080,-0.1)(2110,0.4)(2140,0.5)(2170,0.3)(2200,0.6)(2230,0.4)(2260,0.7)(2290,1.4)(2320,2.1)(2350,2.6)(2380,2.8)(2410,3.0)(2440,3.4)(2470,3.6)(2500,4.1)(2530,4.8)(2560,5.5)(2590,5.7)(2620,5.3)(2650,4.3)(2680,3.4)(2710,2.8)(2740,2.2)(2770,1.4)(2800,0.9)(2830,0.6)(2860,0.3)(2890,0.5)(2920,0.1)(2950,0.4)(2980,0.2)(3010,0.3)(3040,0.0)(3070,0.5)(3100,0.2)(3130,0.4)(3160,-0.1)(3190,0.3)(3220,0.1)(3250,0.4)(3280,0.0)(3310,0.2)(3340,-0.2)(3370,0.3)(3400,0.1)(3430,0.4)(3460,-0.1)(3490,0.2)(3520,0.3)(3550,0.0)};
\addplot[obs] coordinates {(2020,0.0)(2050,0.3)(2080,-0.1)(2110,0.4)(2140,0.5)(2170,0.3)(2200,0.6)(2230,0.4)(2260,0.7)(2290,1.4)(2320,2.1)(2350,2.6)(2380,2.8)(2410,3.0)(2440,3.4)(2470,3.6)(2500,4.1)(2530,4.8)(2560,5.5)(2590,5.7)(2620,5.3)(2650,4.3)(2680,3.4)(2710,2.8)(2740,2.2)(2770,1.4)(2800,0.9)(2830,0.6)(2860,0.3)(2890,0.5)(2920,0.1)(2950,0.4)(2980,0.2)(3010,0.3)(3040,0.0)(3070,0.5)(3100,0.2)(3130,0.4)(3160,-0.1)(3190,0.3)(3220,0.1)(3250,0.4)(3280,0.0)(3310,0.2)(3340,-0.2)(3370,0.3)(3400,0.1)(3430,0.4)(3460,-0.1)(3490,0.2)(3520,0.3)(3550,0.0)};
\addplot[be] coordinates {(2010,0.0)(2200,0.02)(2260,0.15)(2300,0.8)(2350,1.8)(2400,2.6)(2450,3.3)(2500,4.0)(2550,4.7)(2590,5.1)(2620,4.8)(2660,3.8)(2700,2.5)(2740,1.5)(2780,0.8)(2830,0.35)(2900,0.12)(3000,0.04)(3560,0.0)};
\plab{0.06}{= −0.15$''$}
\end{axis}

\begin{axis}[rcol, at={(405pt,81.7pt)}, ymin=-1.6, ymax=7.2, ytick={0,3,6}, minor y tick num=2]
\addplot[band, line width=3pt] coordinates {(2020,0.2)(2050,-0.2)(2080,0.6)(2110,0.1)(2140,0.3)(2170,-0.3)(2200,0.2)(2230,0.1)(2260,0.5)(2290,0.9)(2320,1.3)(2350,1.9)(2380,2.4)(2410,2.8)(2440,3.2)(2470,3.8)(2500,4.6)(2520,5.0)(2545,4.3)(2570,3.5)(2600,2.9)(2630,2.0)(2660,1.0)(2690,-0.3)(2720,0.5)(2750,0.8)(2780,0.5)(2810,0.6)(2840,0.2)(2870,0.4)(2900,-0.2)(2930,0.3)(2960,0.1)(2990,0.4)(3020,-0.1)(3050,0.3)(3080,0.0)(3110,0.4)(3140,-0.2)(3170,0.2)(3200,0.0)(3230,0.3)(3260,-0.3)(3290,0.2)(3320,0.4)(3350,0.0)(3380,-0.2)(3410,0.3)(3440,0.1)(3470,0.2)(3500,0.5)(3530,0.1)(3550,0.2)};
\addplot[obs] coordinates {(2020,0.2)(2050,-0.2)(2080,0.6)(2110,0.1)(2140,0.3)(2170,-0.3)(2200,0.2)(2230,0.1)(2260,0.5)(2290,0.9)(2320,1.3)(2350,1.9)(2380,2.4)(2410,2.8)(2440,3.2)(2470,3.8)(2500,4.6)(2520,5.0)(2545,4.3)(2570,3.5)(2600,2.9)(2630,2.0)(2660,1.0)(2690,-0.3)(2720,0.5)(2750,0.8)(2780,0.5)(2810,0.6)(2840,0.2)(2870,0.4)(2900,-0.2)(2930,0.3)(2960,0.1)(2990,0.4)(3020,-0.1)(3050,0.3)(3080,0.0)(3110,0.4)(3140,-0.2)(3170,0.2)(3200,0.0)(3230,0.3)(3260,-0.3)(3290,0.2)(3320,0.4)(3350,0.0)(3380,-0.2)(3410,0.3)(3440,0.1)(3470,0.2)(3500,0.5)(3530,0.1)(3550,0.2)};
\addplot[be] coordinates {(2010,0)(2150,0.02)(2200,0.1)(2250,0.3)(2300,0.7)(2350,1.4)(2400,2.3)(2450,3.2)(2500,3.8)(2540,3.9)(2580,3.5)(2620,2.7)(2660,1.8)(2700,1.1)(2750,0.5)(2800,0.2)(2870,0.05)(3000,0.0)(3560,0)};
\plab{0.06}{= −0.45$''$}
\end{axis}

\begin{axis}[rcol, at={(405pt,32pt)}, ymin=-1.2, ymax=2.13, ytick={-1,0,1,2}, yticklabels={−1,0,1,2},
  minor y tick num=1, xticklabels={2500,3000,3500}]
\addplot[band, line width=4.5pt] coordinates {(2020,0.0)(2050,0.3)(2080,-0.2)(2110,0.6)(2140,0.2)(2170,0.5)(2200,-0.1)(2230,0.3)(2260,0.0)(2290,-0.3)(2320,0.2)(2350,0.7)(2380,1.0)(2410,1.3)(2440,1.2)(2470,0.8)(2500,0.2)(2530,0.5)(2560,-0.2)(2590,0.3)(2620,0.1)(2650,0.4)(2680,-0.3)(2710,0.0)(2740,-0.5)(2770,-0.2)(2800,0.2)(2830,-0.1)(2860,0.4)(2890,0.8)(2920,0.1)(2950,0.5)(2980,-0.4)(3010,0.2)(3040,0.6)(3070,0.0)(3100,-0.3)(3130,0.2)(3160,0.5)(3190,-0.1)(3220,0.3)(3250,0.1)(3280,-0.2)(3310,0.4)(3340,0.6)(3370,0.0)(3400,0.2)(3430,-0.3)(3460,0.1)(3490,0.5)(3520,0.0)(3550,0.3)};
\addplot[obs] coordinates {(2020,0.0)(2050,0.3)(2080,-0.2)(2110,0.6)(2140,0.2)(2170,0.5)(2200,-0.1)(2230,0.3)(2260,0.0)(2290,-0.3)(2320,0.2)(2350,0.7)(2380,1.0)(2410,1.3)(2440,1.2)(2470,0.8)(2500,0.2)(2530,0.5)(2560,-0.2)(2590,0.3)(2620,0.1)(2650,0.4)(2680,-0.3)(2710,0.0)(2740,-0.5)(2770,-0.2)(2800,0.2)(2830,-0.1)(2860,0.4)(2890,0.8)(2920,0.1)(2950,0.5)(2980,-0.4)(3010,0.2)(3040,0.6)(3070,0.0)(3100,-0.3)(3130,0.2)(3160,0.5)(3190,-0.1)(3220,0.3)(3250,0.1)(3280,-0.2)(3310,0.4)(3340,0.6)(3370,0.0)(3400,0.2)(3430,-0.3)(3460,0.1)(3490,0.5)(3520,0.0)(3550,0.3)};
\addplot[be] coordinates {(2010,0)(2300,0.0)(2330,0.05)(2360,0.25)(2390,0.65)(2420,1.0)(2440,1.1)(2460,1.0)(2490,0.6)(2520,0.25)(2550,0.07)(2600,0.0)(3560,0)};
\plab{0.06}{= −0.85$''$}
\end{axis}

\node[rotate=90, font=\fontsize{11}{12}\selectfont] at (9pt,204pt) {Flux Density (mJy beam\textsuperscript{−1})};
\node[font=\fontsize{11}{12}\selectfont] at (118pt,10pt) {Velocity (km s\textsuperscript{−1})};
\node[font=\fontsize{11}{12}\selectfont] at (405pt,10pt) {Velocity (km s\textsuperscript{−1})};
\end{tikzpicture}
\end{document}
